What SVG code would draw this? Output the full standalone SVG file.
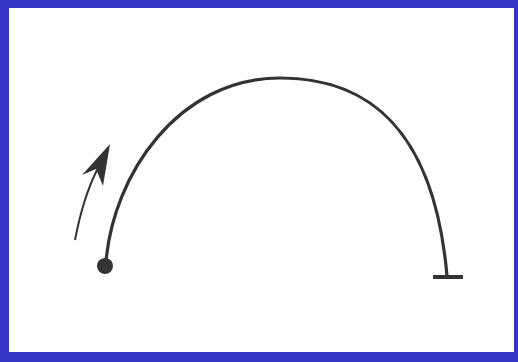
<svg xmlns="http://www.w3.org/2000/svg" width="518" height="362" viewBox="0 0 518 362">
<style>
.ln{fill:none;stroke:#333;stroke-width:3.2;stroke-linecap:round}
</style>
<rect x="0" y="0" width="518" height="362" fill="#3535c8"/>
<rect x="9" y="8" width="505" height="344" fill="#ffffff"/>
<g id="arc">
<path class="ln" d="M106,262 C113,175 178,78 280,78 C385,78 436,150 447,276"/>
</g>
<g id="start">
<circle cx="105" cy="266" r="8" fill="#333"/>
</g>
<g id="end">
<line x1="433" y1="277" x2="463" y2="277" stroke="#333" stroke-width="4"/>
</g>
<g id="connectors">
<path d="M75,240 Q83,198 97,170" fill="none" stroke="#333" stroke-width="2"/>
<path d="M110,144 L82,175 L96,169 L103,186 Z" fill="#333"/>
</g>
</svg>
